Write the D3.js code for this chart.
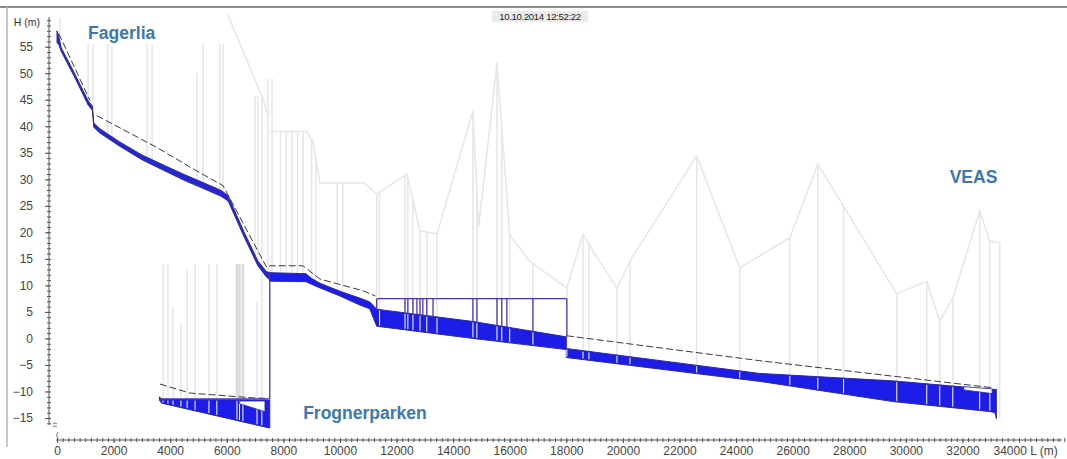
<!DOCTYPE html>
<html>
<head>
<meta charset="utf-8">
<script src="https://cdn.jsdelivr.net/npm/d3@7"></script>
<style>
  html, body { margin: 0; padding: 0; background: #fff; }
  svg { display: block; }
  text { font-family: "Liberation Sans", Arial, sans-serif; }
</style>
</head>
<body>
<svg id="chart" width="1067" height="459"></svg>
<script>
// Longitudinal profile of the trunk sewer Fagerlia / Frognerparken -> VEAS
// L = chainage (m), H = level (m)

// Upper branch from Fagerlia down to the junction: pipe band (top / bottom)
const upperL   = [0, 60, 150, 600, 1100, 1250, 1300, 1500, 2200, 3000, 3800, 4500, 5200, 5800, 6050, 6600, 7100, 7400, 7520];
const upperTop = [58.0, 57.0, 54.8, 50.2, 44.8, 43.8, 40.6, 39.6, 37.1, 34.6, 32.6, 30.9, 29.3, 27.9, 26.9, 20.2, 14.6, 12.6, 12.4];
const upperBot = [55.8, 55.4, 54.1, 49.5, 44.0, 43.0, 39.8, 38.8, 36.3, 33.7, 31.6, 29.8, 28.2, 26.8, 25.9, 19.3, 13.7, 11.6, 11.0];

// Main line from the junction to VEAS
const mainL   = [7520, 8800, 9000, 9300, 10000, 10700, 11050, 11300, 14700, 18000, 18000, 24840, 29540, 33000, 33150, 33200];
const mainTop = [12.4, 12.2, 11.3, 10.4, 8.9, 7.6, 6.9, 5.5, 3.2, 0.3, -1.9, -6.6, -8.0, -9.6, -9.6, -9.6];
const mainBot = [10.8, 10.7, 10.2, 9.5, 8.0, 6.3, 5.6, 2.3, 0.0, -2.1, -3.6, -8.1, -11.9, -13.8, -14.0, -15.1];

// Frognerparken branch
const frogL   = [3620, 3700, 7520];
const frogTop = [-11.0, -11.5, -11.6];
const frogBot = [-11.6, -12.2, -16.9];

// Unfilled pockets inside the pipe band
const gapL   = [[6450, 7350], [32050, 33050]];
const gapTop = [[-11.8, -11.8], [-9.1, -9.5]];
const gapBot = [[-12.3, -13.8], [-9.7, -10.4]];

// Pressure line (water level) outlines
const hglMainL = [11300, 18020];
const hglMainH = 7.5;
const hglFrogL = [3650, 7520];
const hglFrogH = -11.4;
const junctionL = 7520;
const hglVertL = [11300, 12300, 12400, 12580, 12720, 12830, 12930, 13070, 13290, 14700, 14840, 15550, 15720, 15900, 16820, 18020];

// Dashed reference line
const dashUpperL = [60, 1170];
const dashUpperH = [57.5, 44.8];
const dashMidL = [1410, 3530, 4800, 5870, 7420, 7530, 8690, 9290, 10810, 11250];
const dashMidH = [42.0, 36.0, 32.0, 28.8, 13.3, 13.7, 13.7, 11.2, 9.0, 8.0];
const dashLowL = [18020, 19900, 24840, 33070];
const dashLowH = [0.5, -0.8, -4.2, -9.3];
const dashFrogL = [3640, 4700, 6930, 7400];
const dashFrogH = [-8.6, -10.3, -11.2, -11.3];

// Ground surface along the main line
const groundL = [7530, 8800, 9050, 9290, 10850, 11300, 12370, 12830, 13430, 14700, 14900, 15550, 16000, 16700, 18020, 18590, 18940, 19790, 20250, 22610, 24130, 25900, 26890, 29680, 30740, 31200, 31660, 32610, 32970, 33320];
const groundH = [39, 39, 37.2, 29.3, 29.3, 27.2, 31, 20.3, 19.7, 42.9, 21, 51.9, 19.5, 14.6, 9.5, 19.7, 16.5, 9.5, 14.6, 34.4, 13.3, 19, 32.9, 8.4, 10.8, 3.3, 7.6, 24, 18.4, 18];
// Ground surface above the upper branch
const groundUpL = [6040, 7240, 7460];
const groundUpH = [61, 45.7, 42];

// Manholes (vertical shafts from pipe to ground)
const mhUpperL   = [100, 1100, 1270, 1800, 1940, 3180, 3360, 4950, 5160, 5760, 5870, 7000, 7100, 7240, 7460];
const mhUpperTop = [60.5, 55.5, 55.5, 55.5, 55.5, 55.5, 55.5, 50, 55.5, 55.5, 55.5, 45.7, 45.7, 45.7, 49];
const mhMainL = [7600, 7900, 8100, 8300, 8500, 8700, 9000, 9150, 9900, 10100, 11300, 11400, 12300, 12400, 12580, 12830, 13070, 13430, 14700, 14840, 15550, 15720, 16000, 16820, 18020, 18590, 18800, 19790, 20250, 22610, 24130, 25900, 26890, 27800, 29680, 30740, 31200, 31660, 32610, 32970, 33320];
const mhFrogL   = [3750, 3920, 4100, 4380, 4600, 4880, 5370, 5650, 6360, 6450, 6570, 7070, 7240];
const mhFrogTop = [14, 14, 6, 2.8, 13, 14, 14, 14, 14, 14, 14, 7, 14];

// Axis ticks
const yTicks = d3.range(-15, 56, 5);
const xTicks = d3.range(0, 34001, 2000);

// Place labels
const placeNames = ["Fagerlia", "Frognerparken", "VEAS"];
const placeL = [1100, 8700, 31550];
const placeH = [56.5, -15.1, 29.3];
const stamp = "10.10.2014 12:52:22";

// ---------------------------------------------------------------
const svg = d3.select("#chart");
const x = d3.scaleLinear().domain([0, 34000]).range([57, 1019]);
const y = d3.scaleLinear().domain([-15, 55]).range([418, 46.7]);

const BLUE = "#1d1de8", NAVY = "#2f2a9e", GRID = "#e6e6e6";

function interp(Ls, Hs, L) {
  for (let i = 0; i < Ls.length - 1; i++) {
    if (L >= Ls[i] && L <= Ls[i + 1]) {
      const t = Ls[i + 1] === Ls[i] ? 0 : (L - Ls[i]) / (Ls[i + 1] - Ls[i]);
      return Hs[i] + t * (Hs[i + 1] - Hs[i]);
    }
  }
  return L < Ls[0] ? Hs[0] : Hs[Hs.length - 1];
}
const zip2 = (a, b) => a.map((v, i) => [v, b[i]]);
const line = d3.line().x(d => x(d[0])).y(d => y(d[1]));

// frame
svg.append("line").attr("x1", 0).attr("x2", 1067).attr("y1", 7).attr("y2", 7)
  .attr("stroke", "#8c8c8c").attr("stroke-width", 2);
svg.append("line").attr("x1", 7).attr("x2", 7).attr("y1", 7).attr("y2", 447)
  .attr("stroke", "#b5b5b5").attr("stroke-width", 1.5);

// timestamp
svg.append("rect").attr("x", 492).attr("y", 11).attr("width", 96).attr("height", 11).attr("fill", "#ebebeb");
svg.append("text").attr("x", 540).attr("y", 20).attr("text-anchor", "middle")
  .attr("font-size", 9.5).attr("fill", "#222").attr("letter-spacing", -0.3).text(stamp);

const plot = svg.append("g");

// ground and manholes (light gray)
const gGround = plot.append("g").attr("fill", "none").attr("stroke", GRID).attr("stroke-width", 1.5);
gGround.append("path").attr("d", line(zip2(groundL, groundH)));
gGround.append("path").attr("d", line(zip2(groundUpL, groundUpH)));
mhUpperL.forEach((L, i) => {
  gGround.append("line").attr("x1", x(L)).attr("x2", x(L))
    .attr("y1", y(interp(upperL, upperBot, L))).attr("y2", y(mhUpperTop[i]));
});
mhMainL.forEach(L => {
  const top = L === 7600 ? 49 : interp(groundL, groundH, L);
  gGround.append("line").attr("x1", x(L)).attr("x2", x(L))
    .attr("y1", y(interp(mainL, mainBot, L))).attr("y2", y(top));
});
mhFrogL.forEach((L, i) => {
  gGround.append("line").attr("x1", x(L)).attr("x2", x(L))
    .attr("y1", y(interp(frogL, frogBot, L))).attr("y2", y(mhFrogTop[i]))
    .attr("stroke", (L >= 6360 && L <= 6570) ? "#dadada" : GRID)
    .attr("stroke-width", (L >= 6360 && L <= 6570) ? 2.5 : 1.5);
});

// dashed reference line
const gDash = plot.append("g").attr("fill", "none").attr("stroke", "#3a3a3a")
  .attr("stroke-width", 1).attr("stroke-dasharray", "7,3");
[[dashUpperL, dashUpperH], [dashMidL, dashMidH], [dashLowL, dashLowH], [dashFrogL, dashFrogH]]
  .forEach(([Ls, Hs]) => gDash.append("path").attr("d", line(zip2(Ls, Hs))));

// pipe bands
const band = (Ls, T, B) => d3.area().x(d => x(d[0])).y0(d => y(d[2])).y1(d => y(d[1]))(Ls.map((L, i) => [L, T[i], B[i]]));
[[upperL, upperTop, upperBot, "#2626d0"], [mainL, mainTop, mainBot, BLUE], [frogL, frogTop, frogBot, BLUE]].forEach(([Ls, T, B, c]) => {
  plot.append("path").attr("d", band(Ls, T, B)).attr("fill", c)
    .attr("stroke", NAVY).attr("stroke-width", 1);
});

// shaft separators inside the band
mhMainL.filter(L => L > 11300 && L < 33200).forEach(L => {
  plot.append("line").attr("x1", x(L)).attr("x2", x(L))
    .attr("y1", y(interp(mainL, mainBot, L)) - 1).attr("y2", y(interp(mainL, mainTop, L)) + 1)
    .attr("stroke", "#ffffff").attr("stroke-width", 1);
});
mhFrogL.forEach(L => {
  plot.append("line").attr("x1", x(L)).attr("x2", x(L))
    .attr("y1", y(interp(frogL, frogBot, L)) - 1).attr("y2", y(interp(frogL, frogTop, L)) + 1)
    .attr("stroke", "#ffffff").attr("stroke-width", 1);
});
gapL.forEach((Ls, k) => {
  plot.append("path").attr("d", band(Ls, gapTop[k], gapBot[k]))
    .attr("fill", "#fff").attr("stroke", NAVY).attr("stroke-width", 0.8);
});

// pressure-line outlines
const gHgl = plot.append("g").attr("fill", "none").attr("stroke", "#4b34b0").attr("stroke-width", 1.3);
gHgl.append("line").attr("x1", x(hglMainL[0])).attr("x2", x(hglMainL[1]))
  .attr("y1", y(hglMainH)).attr("y2", y(hglMainH));
hglVertL.forEach(L => {
  gHgl.append("line").attr("x1", x(L)).attr("x2", x(L))
    .attr("y1", y(hglMainH)).attr("y2", y(interp(mainL.slice(0, 10), mainTop.slice(0, 10), L)));
});
gHgl.append("line").attr("x1", x(hglFrogL[0])).attr("x2", x(hglFrogL[1]))
  .attr("y1", y(hglFrogH)).attr("y2", y(hglFrogH));
gHgl.append("line").attr("x1", x(junctionL)).attr("x2", x(junctionL))
  .attr("y1", y(interp(mainL, mainTop, junctionL))).attr("y2", y(hglFrogH));
gHgl.append("line").attr("x1", x(hglFrogL[0])).attr("x2", x(hglFrogL[0]))
  .attr("y1", y(hglFrogH)).attr("y2", y(interp(frogL, frogBot, hglFrogL[0])));

// ---- axes ----
const axisColor = "#555";
const gy = svg.append("g").attr("transform", "translate(49,0)");
gy.append("line").attr("x1", 0).attr("x2", 0).attr("y1", y(60.6)).attr("y2", y(-16.3))
  .attr("stroke", axisColor).attr("stroke-width", 1);
const yMinor = d3.range(-16, 61, 1);
gy.append("g").call(d3.axisLeft(y).tickValues(yMinor).tickSize(2).tickFormat(""))
  .call(g => g.select(".domain").remove()).selectAll("line").attr("stroke", axisColor);
gy.append("g").call(d3.axisRight(y).tickValues(yMinor).tickSize(2).tickFormat(""))
  .call(g => g.select(".domain").remove()).selectAll("line").attr("stroke", axisColor);
gy.append("g").call(d3.axisLeft(y).tickValues(yTicks).tickSize(4).tickPadding(12))
  .call(g => g.select(".domain").remove())
  .call(g => g.selectAll("line").attr("stroke", axisColor))
  .call(g => g.selectAll("text").attr("font-size", 12).attr("fill", "#444")
    .attr("font-family", "Liberation Sans, Arial, sans-serif"));
svg.append("text").attr("x", 40).attr("y", 26).attr("text-anchor", "end")
  .attr("font-size", 10.5).attr("fill", "#333").text("H (m)");
// axis break marks
svg.append("path").attr("d", "M53,424 q2,-2 4,0 M53,427 q2,-2 4,0")
  .attr("fill", "none").attr("stroke", axisColor).attr("stroke-width", 0.8);

const gx = svg.append("g").attr("transform", "translate(0,440)");
gx.append("line").attr("x1", 56).attr("x2", 1062).attr("y1", 0).attr("y2", 0)
  .attr("stroke", axisColor).attr("stroke-width", 1);
const xMinor = d3.range(0, 35601, 200);
gx.append("g").call(d3.axisBottom(x).tickValues(xMinor).tickSize(2).tickFormat(""))
  .call(g => g.select(".domain").remove()).selectAll("line").attr("stroke", axisColor);
gx.append("g").call(d3.axisTop(x).tickValues(xMinor).tickSize(2).tickFormat(""))
  .call(g => g.select(".domain").remove()).selectAll("line").attr("stroke", axisColor);
gx.append("g").call(d3.axisBottom(x).tickValues(xTicks).tickSize(3).tickPadding(3)
    .tickFormat(d => d === 34000 ? "34000 L (m)" : d3.format("d")(d)))
  .call(g => g.select(".domain").remove())
  .call(g => g.selectAll("line").attr("stroke", axisColor))
  .call(g => g.selectAll("text").attr("font-size", 12).attr("fill", "#444")
    .attr("font-family", "Liberation Sans, Arial, sans-serif"))
  .call(g => g.selectAll("text").filter(d => d === 34000).attr("text-anchor", "start").attr("dx", -26));
svg.append("path").attr("d", "M58,432 q-3,3 0,7")
  .attr("fill", "none").attr("stroke", axisColor).attr("stroke-width", 0.8);

// ---- place names ----
svg.append("g").selectAll("text").data(placeNames).join("text")
  .attr("x", (d, i) => x(placeL[i])).attr("y", (d, i) => y(placeH[i]))
  .attr("font-size", 17.5).attr("font-weight", "bold").attr("fill", "#3b78b9")
  .attr("stroke", "#fffdf0").attr("stroke-width", 4).attr("paint-order", "stroke")
  .attr("stroke-linejoin", "round")
  .text(d => d);
</script>
</body>
</html>
